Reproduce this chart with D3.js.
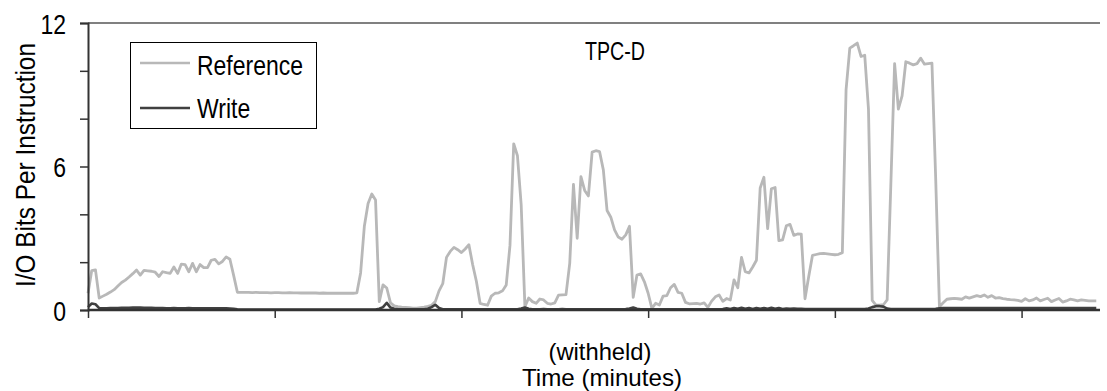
<!DOCTYPE html>
<html>
<head>
<meta charset="utf-8">
<script src="https://cdn.jsdelivr.net/npm/d3@7"></script>
<style>
  html, body { margin: 0; padding: 0; background: #fff; }
  svg text { font-family: "Liberation Sans", Arial, sans-serif; fill: #000; }
</style>
</head>
<body>
<svg id="chart" width="1107" height="391"></svg>
<script>
// ---- data ----
const seriesNames = ["Reference", "Write"];
const chartTitle = "TPC-D";
const xAxisLabel = "(withheld)";
const xAxisTitle = "Time (minutes)";
const yAxisTitle = "I/O Bits Per Instruction";
const yTickValues = [0, 2, 4, 6, 8, 10, 12];
const yTickLabels = ["0", "", "", "6", "", "", "12"];
const xTickIndexes = [0, 50, 100, 150, 200, 250];

const referenceValues = [
  0.70,1.65,1.68,0.50,0.58,0.66,0.75,0.85,1.00,1.15,
  1.25,1.38,1.52,1.67,1.46,1.66,1.64,1.62,1.58,1.40,
  1.60,1.56,1.53,1.80,1.53,1.92,1.90,1.60,1.95,1.60,
  1.90,1.77,1.77,2.08,2.12,1.93,2.03,2.22,2.12,1.45,
  0.74,0.74,0.74,0.74,0.73,0.74,0.73,0.73,0.73,0.72,
  0.73,0.73,0.72,0.72,0.73,0.72,0.72,0.71,0.71,0.71,
  0.71,0.71,0.70,0.71,0.70,0.70,0.70,0.70,0.70,0.70,
  0.70,0.70,0.72,1.55,3.50,4.45,4.85,4.60,0.35,1.05,
  0.92,0.30,0.17,0.14,0.12,0.11,0.10,0.08,0.08,0.10,
  0.12,0.15,0.20,0.35,0.80,1.10,2.20,2.45,2.62,2.52,
  2.40,2.55,2.73,1.90,1.20,0.28,0.23,0.20,0.58,0.70,
  0.72,0.80,1.05,2.70,6.95,6.45,4.40,0.14,0.50,0.35,
  0.28,0.46,0.42,0.28,0.25,0.30,0.62,0.63,0.64,1.95,
  5.25,3.00,5.58,5.00,4.77,6.60,6.66,6.62,5.86,4.16,
  3.88,3.35,3.05,2.96,3.14,3.50,0.53,1.46,1.51,1.18,
  0.70,0.07,0.28,0.21,0.58,0.60,0.93,1.07,0.74,0.70,
  0.32,0.26,0.27,0.28,0.25,0.30,0.11,0.37,0.55,0.63,
  0.36,0.48,0.42,1.26,0.93,2.20,1.60,1.55,1.80,2.08,
  5.10,5.55,3.40,5.07,5.12,2.90,2.93,3.52,3.58,3.12,
  3.18,3.17,0.47,1.40,2.28,2.32,2.36,2.37,2.35,2.33,
  2.31,2.33,2.40,9.20,10.95,11.05,11.16,10.60,10.65,8.40,
  0.40,0.20,0.20,0.22,0.42,5.30,10.30,8.40,8.95,10.38,
  10.32,10.25,10.30,10.53,10.28,10.30,10.32,5.50,0.14,0.30,
  0.45,0.47,0.49,0.47,0.45,0.55,0.50,0.55,0.60,0.56,
  0.63,0.53,0.60,0.50,0.52,0.48,0.45,0.43,0.42,0.40,
  0.36,0.47,0.38,0.42,0.50,0.38,0.44,0.49,0.35,0.42,
  0.48,0.33,0.38,0.45,0.42,0.38,0.42,0.40,0.38,0.38,
  0.38
];

const writeValues = [
  0.12,0.27,0.24,0.08,0.07,0.07,0.08,0.08,0.08,0.09,
  0.09,0.09,0.10,0.10,0.10,0.09,0.09,0.09,0.08,0.08,
  0.08,0.07,0.07,0.08,0.07,0.07,0.07,0.08,0.07,0.07,
  0.07,0.07,0.07,0.07,0.07,0.07,0.07,0.07,0.06,0.05,
  0.03,0.02,0.02,0.02,0.02,0.02,0.02,0.02,0.02,0.02,
  0.02,0.02,0.02,0.02,0.02,0.02,0.02,0.02,0.02,0.02,
  0.02,0.02,0.02,0.02,0.02,0.02,0.02,0.02,0.02,0.02,
  0.02,0.02,0.02,0.02,0.02,0.02,0.02,0.02,0.05,0.12,
  0.30,0.10,0.05,0.03,0.03,0.03,0.03,0.03,0.03,0.03,
  0.03,0.05,0.12,0.22,0.08,0.03,0.03,0.03,0.03,0.03,
  0.03,0.03,0.03,0.03,0.03,0.03,0.03,0.03,0.03,0.03,
  0.03,0.03,0.03,0.03,0.03,0.03,0.06,0.10,0.05,0.03,
  0.03,0.03,0.04,0.03,0.03,0.03,0.03,0.04,0.03,0.03,
  0.03,0.03,0.03,0.03,0.03,0.03,0.03,0.03,0.03,0.03,
  0.03,0.03,0.03,0.03,0.04,0.06,0.10,0.05,0.03,0.03,
  0.03,0.03,0.03,0.03,0.03,0.03,0.03,0.03,0.03,0.03,
  0.03,0.03,0.03,0.03,0.03,0.03,0.03,0.03,0.03,0.03,
  0.04,0.07,0.04,0.08,0.05,0.09,0.05,0.08,0.04,0.08,
  0.05,0.08,0.05,0.09,0.05,0.08,0.04,0.06,0.05,0.06,
  0.05,0.05,0.04,0.04,0.04,0.04,0.04,0.04,0.04,0.04,
  0.04,0.04,0.04,0.04,0.04,0.04,0.04,0.04,0.04,0.06,
  0.12,0.16,0.16,0.14,0.06,0.04,0.04,0.04,0.04,0.04,
  0.04,0.04,0.04,0.04,0.04,0.04,0.04,0.05,0.07,0.08,
  0.08,0.08,0.08,0.08,0.08,0.08,0.08,0.08,0.08,0.08,
  0.08,0.08,0.08,0.08,0.08,0.08,0.08,0.08,0.08,0.08,
  0.08,0.08,0.08,0.08,0.08,0.08,0.08,0.08,0.08,0.08,
  0.08,0.08,0.08,0.08,0.08,0.08,0.08,0.08,0.08,0.08,
  0.08
];

(function () {
  const svg = d3.select("#chart");
  const mLeft = 88, mRight = 1100, mTop = 23, mBottom = 310;
  const colors = { Reference: "#b8b8b8", Write: "#404040" };
  const narrowFactor = 0.82;

  // compress text horizontally to mimic a narrow face
  function narrow(sel) {
    sel.each(function () {
      const w = this.getComputedTextLength();
      if (w > 0) {
        d3.select(this).attr("textLength", w * narrowFactor).attr("lengthAdjust", "spacingAndGlyphs");
      }
    });
    return sel;
  }

  const x = d3.scaleLinear().domain([0, 271]).range([mLeft, mRight]);
  const y = d3.scaleLinear().domain([0, 12]).range([mBottom, mTop]);

  // top border
  svg.append("line")
    .attr("x1", mLeft).attr("x2", mRight)
    .attr("y1", y(12)).attr("y2", y(12))
    .attr("stroke", "#808080").attr("stroke-width", 2);

  const line = d3.line().x((d, i) => x(i)).y(d => y(d));

  svg.append("path").datum(referenceValues)
    .attr("d", line).attr("fill", "none")
    .attr("stroke", colors.Reference).attr("stroke-width", 2.8)
    .attr("stroke-linejoin", "round");

  svg.append("path").datum(writeValues)
    .attr("d", line).attr("fill", "none")
    .attr("stroke", colors.Write).attr("stroke-width", 2.6)
    .attr("stroke-linejoin", "round");

  // y axis
  const yAxis = d3.axisLeft(y).tickValues(yTickValues).tickSize(8).tickPadding(14)
    .tickFormat((d, i) => yTickLabels[i]);
  const gy = svg.append("g").attr("transform", `translate(${mLeft},0)`).call(yAxis);
  gy.attr("font-family", null).attr("font-size", null);
  gy.select(".domain").attr("stroke", "#333").attr("stroke-width", 2);
  gy.selectAll(".tick line").attr("stroke", "#333").attr("stroke-width", 1.5);
  narrow(gy.selectAll(".tick text").attr("font-size", 28).attr("dy", "0.36em"));

  // x axis
  const xAxis = d3.axisBottom(x).tickValues(xTickIndexes).tickSize(8).tickFormat("");
  const gx = svg.append("g").attr("transform", `translate(0,${mBottom})`).call(xAxis);
  gx.select(".domain").attr("stroke", "#333").attr("stroke-width", 2.5)
    .attr("d", `M${mLeft},0H${mRight}`);
  gx.selectAll(".tick line").attr("stroke", "#333").attr("stroke-width", 1.5);

  // titles
  svg.append("text").attr("x", 615).attr("y", 60).attr("text-anchor", "middle")
    .attr("font-size", 25).attr("textLength", 60).attr("lengthAdjust", "spacingAndGlyphs")
    .text(chartTitle);
  svg.append("text").attr("x", 600).attr("y", 359.5).attr("text-anchor", "middle")
    .attr("font-size", 24.5).attr("textLength", 103).attr("lengthAdjust", "spacingAndGlyphs")
    .text(xAxisLabel);
  svg.append("text").attr("x", 602).attr("y", 386).attr("text-anchor", "middle")
    .attr("font-size", 24.5).attr("textLength", 160).attr("lengthAdjust", "spacingAndGlyphs")
    .text(xAxisTitle);
  svg.append("text")
    .attr("transform", "translate(35,165) rotate(-90)")
    .attr("text-anchor", "middle").attr("font-size", 28)
    .attr("textLength", 244).attr("lengthAdjust", "spacingAndGlyphs")
    .text(yAxisTitle);

  // legend
  const lg = svg.append("g");
  lg.append("rect").attr("x", 130.5).attr("y", 42.5).attr("width", 186).attr("height", 86)
    .attr("fill", "#fff").attr("stroke", "#000").attr("stroke-width", 1);
  const legendRows = [{ name: seriesNames[0], ly: 63, ty: 75 }, { name: seriesNames[1], ly: 108, ty: 118 }];
  legendRows.forEach(r => {
    lg.append("line").attr("x1", 140).attr("x2", 190).attr("y1", r.ly).attr("y2", r.ly)
      .attr("stroke", colors[r.name]).attr("stroke-width", 2.6);
    narrow(lg.append("text").attr("x", 197).attr("y", r.ty).attr("font-size", 28).text(r.name));
  });
})();
</script>
</body>
</html>
